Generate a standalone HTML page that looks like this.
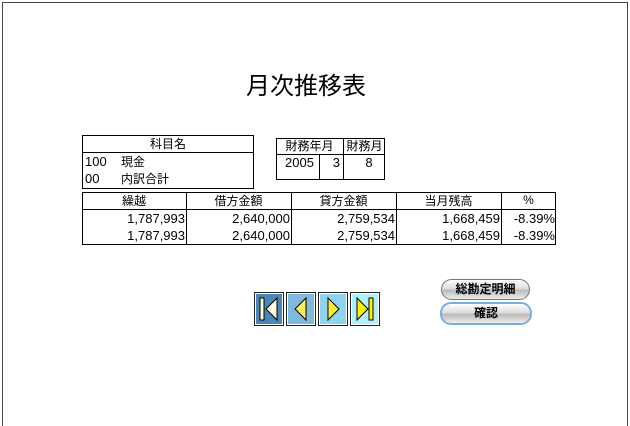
<!DOCTYPE html>
<html><head><meta charset="utf-8"><style>
html,body{margin:0;overflow:hidden}
body{width:630px;height:426px;background:#fff;position:relative;overflow:hidden;font-family:"Liberation Sans","Noto Sans CJK JP",sans-serif;font-size:13px;color:#000}
.a{position:absolute}
.frame{left:2px;top:2px;width:624px;height:424px;border:1px solid #444;border-bottom:none}
.bx{position:absolute;border:1px solid #000;box-sizing:border-box}
.t{position:absolute;white-space:nowrap;line-height:16px}
.r{text-align:right}
.c{text-align:center}
.nav{position:absolute;top:292px;width:30px;height:34px;border:1px solid #222;box-sizing:border-box;box-shadow:inset 0 0 0 1px #fff}
.pill{position:absolute;border-radius:11px;border:1px solid #777;background:linear-gradient(#fff,#ddd 45%,#bbb 55%,#eee);text-align:center;font-size:12px;font-weight:bold;line-height:19px}
</style></head><body>
<div class="a frame"></div>
<div class="t" style="left:0;width:612px;top:72px;font-size:24px;line-height:30px;text-align:center">月次推移表</div>

<div class="bx" style="left:82px;top:135px;width:172px;height:54px"></div>
<div class="a" style="left:82px;top:152px;width:172px;border-top:1px solid #000"></div>
<div class="t c" style="left:82px;width:172px;top:136px;font-size:12px">科目名</div>
<div class="t" style="left:85px;top:154px">100</div><div class="t" style="left:121px;top:154px;font-size:12px">現金</div>
<div class="t" style="left:85px;top:171px">00</div><div class="t" style="left:121px;top:171px;font-size:12px">内訳合計</div>

<div class="bx" style="left:276px;top:138px;width:109px;height:42px"></div>
<div class="a" style="left:276px;top:154px;width:109px;border-top:1px solid #000"></div>
<div class="a" style="left:343px;top:138px;height:42px;border-left:1px solid #000"></div>
<div class="a" style="left:319px;top:154px;height:26px;border-left:1px solid #000"></div>
<div class="t c" style="left:276px;width:67px;top:138px;font-size:12px">財務年月</div>
<div class="t c" style="left:344px;width:41px;top:138px;font-size:12px">財務月</div>
<div class="t" style="left:285px;top:155px">2005</div>
<div class="t r" style="left:320px;width:20px;top:155px">3</div>
<div class="t c" style="left:344px;width:50px;top:155px">8</div>

<div class="bx" style="left:82px;top:192px;width:474px;height:53px"></div>
<div class="a" style="left:82px;top:209px;width:474px;border-top:1px solid #000"></div>
<div class="a" style="left:186px;top:192px;height:53px;border-left:1px solid #000"></div>
<div class="a" style="left:291px;top:192px;height:53px;border-left:1px solid #000"></div>
<div class="a" style="left:396px;top:192px;height:53px;border-left:1px solid #000"></div>
<div class="a" style="left:501px;top:192px;height:53px;border-left:1px solid #000"></div>
<div class="t c" style="left:82px;width:104px;top:193px;font-size:12px">繰越</div>
<div class="t c" style="left:186px;width:105px;top:193px;font-size:12px">借方金額</div>
<div class="t c" style="left:291px;width:105px;top:193px;font-size:12px">貸方金額</div>
<div class="t c" style="left:396px;width:105px;top:193px;font-size:12px">当月残高</div>
<div class="t c" style="left:501px;width:55px;top:192px;font-size:12px">%</div>
<div class="t r" style="left:82px;width:103px;top:211px">1,787,993</div>
<div class="t r" style="left:186px;width:104px;top:211px">2,640,000</div>
<div class="t r" style="left:291px;width:104px;top:211px">2,759,534</div>
<div class="t r" style="left:396px;width:104px;top:211px">1,668,459</div>
<div class="t r" style="left:501px;width:54px;top:211px">-8.39%</div>
<div class="t r" style="left:82px;width:103px;top:228px">1,787,993</div>
<div class="t r" style="left:186px;width:104px;top:228px">2,640,000</div>
<div class="t r" style="left:291px;width:104px;top:228px">2,759,534</div>
<div class="t r" style="left:396px;width:104px;top:228px">1,668,459</div>
<div class="t r" style="left:501px;width:54px;top:228px">-8.39%</div>

<div class="nav" style="left:254px;background:#4a86b8"><svg width="28" height="32"><rect x="5" y="5" width="4" height="22" fill="#ffd" stroke="#000"/><polygon points="22,5 11,16 22,27" fill="#ffd" stroke="#000"/></svg></div>
<div class="nav" style="left:286px;background:#7fbadb"><svg width="28" height="32"><polygon points="19,5 8,16 19,27" fill="#ffef60" stroke="#000"/></svg></div>
<div class="nav" style="left:318px;background:#8fd3ef"><svg width="28" height="32"><polygon points="9,5 20,16 9,27" fill="#ffef30" stroke="#000"/></svg></div>
<div class="nav" style="left:350px;background:#aef0ff"><svg width="28" height="32"><polygon points="6,5 17,16 6,27" fill="#ffef00" stroke="#000"/><rect x="18" y="5" width="4" height="22" fill="#ffef00" stroke="#000"/></svg></div>

<div class="pill" style="left:441px;top:279px;width:87px;height:19px">総勘定明細</div>
<div class="pill" style="left:440px;top:302px;width:88px;height:19px;border:2px solid #7aaede">確認</div>
</body></html>
